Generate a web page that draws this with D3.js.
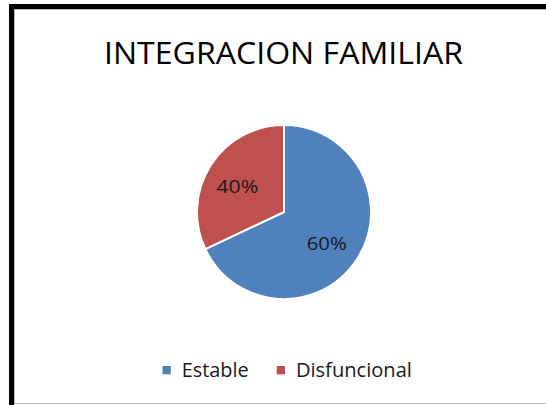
<!DOCTYPE html>
<html>
<head>
<meta charset="utf-8">
<script src="https://cdn.jsdelivr.net/npm/d3@7"></script>
<style>
  html, body { margin: 0; padding: 0; background: #fff; }
  svg { display: block; }
</style>
</head>
<body>
<svg id="chart" width="546" height="405"></svg>
<script>
// ---- data ----
const categories = ["Estable", "Disfuncional"];
const values = [68, 32];              // slice sizes as drawn
const valueLabels = ["60%", "40%"];   // labels as printed on the slices
const colors = ["#4F81BD", "#C0504D"];
const title = "INTEGRACION FAMILIAR";

const W = 546, H = 405;
const svg = d3.select("#chart");
const FONT = "'Open Sans', 'Noto Sans', sans-serif";

// frame: thick black top/left edge + light gray inner border
svg.append("rect").attr("x", 9).attr("y", 4).attr("width", W - 9).attr("height", 5).attr("fill", "#000");
svg.append("rect").attr("x", 9).attr("y", 4).attr("width", 5).attr("height", H - 4).attr("fill", "#000");
svg.append("rect").attr("x", 14.5).attr("y", 9.5).attr("width", W).attr("height", 394)
  .attr("fill", "#fff").attr("stroke", "#bfbfbf").attr("stroke-width", 1);

// title
svg.append("text")
  .attr("x", 283.5).attr("y", 64)
  .attr("text-anchor", "middle")
  .attr("font-family", FONT).attr("font-size", 31)
  .attr("fill", "#000")
  .attr("textLength", 359).attr("lengthAdjust", "spacingAndGlyphs")
  .text(title);

// pie
const cx = 284, cy = 212, r = 87;
const pie = d3.pie().sort(null).value(d => d.v);
const data = categories.map((c, i) => ({ c, v: values[i], label: valueLabels[i], color: colors[i] }));
const arcs = pie(data);
const arc = d3.arc().innerRadius(0).outerRadius(r);
const labelArc = d3.arc().innerRadius(53).outerRadius(53);

const g = svg.append("g").attr("transform", `translate(${cx},${cy})`);
g.selectAll("path.slice").data(arcs).join("path")
  .attr("class", "slice")
  .attr("d", arc)
  .attr("fill", d => d.data.color)
  .attr("stroke", "#fff")
  .attr("stroke-width", 2)
  .attr("stroke-linejoin", "round");

const labelWidths = [40, 42];
g.selectAll("text.lbl").data(arcs).join("text")
  .attr("class", "lbl")
  .attr("x", d => labelArc.centroid(d)[0] - 2)
  .attr("y", d => labelArc.centroid(d)[1] + 3 + 6.5)
  .attr("text-anchor", "middle")
  .attr("font-family", FONT).attr("font-size", 18)
  .attr("fill", "#1a1a1a")
  .attr("textLength", (d, i) => labelWidths[i]).attr("lengthAdjust", "spacingAndGlyphs")
  .text(d => d.data.label);

// legend
const legendX = [162.5, 276.7];
const legendTextW = [67, 116];
const lg = svg.append("g");
data.forEach((d, i) => {
  lg.append("rect")
    .attr("x", legendX[i]).attr("y", 366)
    .attr("width", 8.3).attr("height", 8.3)
    .attr("fill", d.color);
  lg.append("text")
    .attr("x", legendX[i] + 19.2).attr("y", 376.7)
    .attr("font-family", FONT).attr("font-size", 20)
    .attr("fill", "#1a1a1a")
    .attr("textLength", legendTextW[i]).attr("lengthAdjust", "spacingAndGlyphs")
    .text(d.c);
});
</script>
</body>
</html>
